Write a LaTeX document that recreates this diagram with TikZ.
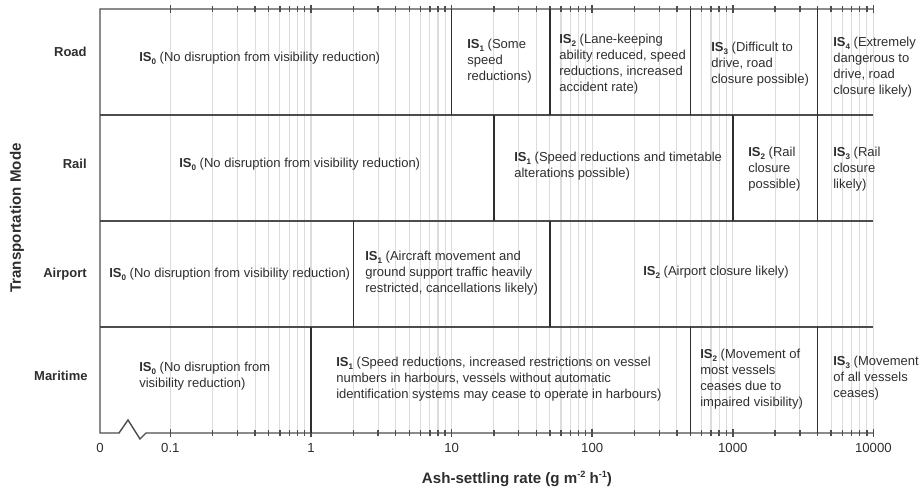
\documentclass[tikz,border=0pt]{standalone}
\usepackage{fontspec}
\setmainfont{Liberation Sans}
\usepackage{xcolor}
\usetikzlibrary{positioning}
\definecolor{inkgray}{HTML}{2E2E2E}
\definecolor{gridgray}{HTML}{DCDCDC}
\newcommand{\IS}[1]{\textbf{IS\raisebox{-0.4ex}{\fontsize{4.6}{5}\selectfont#1}}}
\newcommand{\supx}[1]{\raisebox{0.75ex}{\fontsize{5.2}{6}\selectfont#1}}
\tikzset{
lvl/.style={anchor=west,align=left,inner sep=0pt,font=\fontsize{7.4}{9.1}\selectfont,text=inkgray},
mode/.style={anchor=east,inner sep=0pt,font=\fontsize{7.4}{9}\selectfont\bfseries,text=inkgray},
ticklab/.style={inner sep=0pt,font=\fontsize{7.5}{9}\selectfont,text=inkgray},
axtitle/.style={inner sep=0pt,font=\fontsize{8.6}{10}\selectfont\bfseries,text=inkgray},
gridline/.style={gridgray,line width=0.6pt},
bound/.style={inkgray,line width=0.9pt},
frame/.style={inkgray!85,line width=0.8pt}
}
\begin{document}
\begin{tikzpicture}[x=0.02cm,y=-0.02cm]
\useasboundingbox (0,0) rectangle (921,493);
\foreach \d in {-1,...,3}{
\foreach \k in {1,...,9}{
\pgfmathsetmacro\gx{311+140.6*(\d+log10(\k))}
\pgfmathsetmacro\tl{\k==1?4:3}
\draw[gridline](\gx,9)--(\gx,433);
\draw[frame](\gx,9-\tl)--(\gx,9+\tl);
\draw[frame](\gx,433-\tl)--(\gx,433+\tl);
}}
\draw[gridline](873.4,9)--(873.4,433);
\draw[frame](873.4,5)--(873.4,13) (873.4,429)--(873.4,437);
\draw[frame](873.4,9)--(100,9)--(100,433)--(119,433)--(128,420)--(140,439)--(146,433)--(873.4,433);
\foreach \y in {115,221,327} \draw[frame](100,\y)--(873.4,\y);
\foreach \v/\r in {10/0,50/0,500/0,4000/0,20/1,1000/1,4000/1,2/2,50/2,1/3,500/3,4000/3}{
\pgfmathsetmacro\bx{311+140.6*log10(\v)}
\draw[bound](\bx,9+106*\r)--(\bx,115+106*\r);
}
\node[mode](road) at (87,52){Road};
\node[mode](rail) at (87,164){Rail};
\node[mode](airport) at (87,274){Airport};
\node[mode](maritime) at (88,376){Maritime};
\node[axtitle,rotate=90](ylab) at (17,218){Transportation Mode};
\node[lvl](road0) at (139,58){\IS{0} (No disruption from visibility reduction)};
\node[lvl](road1) at (467,61){\IS{1} (Some\\speed\\reductions)};
\node[lvl](road2) at (559,64){\IS{2} (Lane-keeping\\ability reduced, speed\\reductions, increased\\accident rate)};
\node[lvl](road3) at (711,64){\IS{3} (Difficult to\\drive, road\\closure possible)};
\node[lvl](road4) at (833,67){\IS{4} (Extremely\\dangerous to\\drive, road\\closure likely)};
\node[lvl](rail0) at (179,164){\IS{0} (No disruption from visibility reduction)};
\node[lvl](rail1) at (514,166.5){\IS{1} (Speed reductions and timetable\\alterations possible)};
\node[lvl](rail2) at (748,169){\IS{2} (Rail\\closure\\possible)};
\node[lvl](rail3) at (833,169){\IS{3} (Rail\\closure\\likely)};
\node[lvl](air0) at (109,274){\IS{0} (No disruption from visibility reduction)};
\node[lvl](air1) at (365,273){\IS{1} (Aircraft movement and\\ground support traffic heavily\\restricted, cancellations likely)};
\node[lvl](air2) at (643,272){\IS{2} (Airport closure likely)};
\node[lvl](sea0) at (139,376){\IS{0} (No disruption from\\visibility reduction)};
\node[lvl](sea1) at (336,379.5){\IS{1} (Speed reductions, increased restrictions on vessel\\numbers in harbours, vessels without automatic\\identification systems may cease to operate in harbours)};
\node[lvl](sea2) at (700,379.5){\IS{2} (Movement of\\most vessels\\ceases due to\\impaired visibility)};
\node[lvl](sea3) at (833,378){\IS{3} (Movement\\of all vessels\\ceases)};
\node[ticklab](tz) at (100,448){0};
\foreach \lab [count=\i from 0] in {0.1,1,10,100,1000,10000}
\node[ticklab](tk\i) at (170.4+140.6*\i,448){\lab};
\node[axtitle](xlab) at (517,479){Ash-settling rate (g m\supx{-2} h\supx{-1})};
\end{tikzpicture}
\end{document}
